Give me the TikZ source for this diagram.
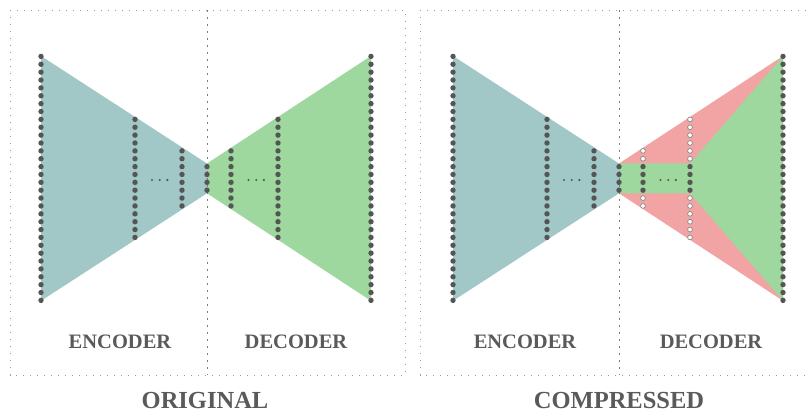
\documentclass[tikz,border=0pt]{standalone}
\usepackage{fontspec}
\setmainfont{Liberation Serif}
\definecolor{encc}{HTML}{A1C7C6}
\definecolor{decc}{HTML}{9ED89E}
\definecolor{cutc}{HTML}{F2A3A3}
\definecolor{dotc}{HTML}{555555}
\definecolor{txtc}{HTML}{5A5A5A}
\definecolor{framec}{HTML}{9A9A9A}
\begin{document}
\begin{tikzpicture}[x=1pt,y=-1pt,
  frame/.style={draw=framec,line width=0.8pt,dash pattern=on 1.1pt off 5.9pt},
  divider/.style={draw=framec!80!black,line width=0.8pt,dash pattern=on 1.6pt off 5.4pt},
  neuron/.style={fill=dotc},
  pruned/.style={fill=white,draw=dotc!70,line width=0.7pt},
  partlabel/.style={font=\bfseries\fontsize{20.5}{24}\selectfont,text=txtc,anchor=base,inner sep=0pt},
  titlelabel/.style={font=\bfseries\fontsize{24.5}{28}\selectfont,text=txtc,anchor=base,inner sep=0pt}]
\useasboundingbox (0,0) rectangle (806,414);
\clip (0,0) rectangle (806,414);
\fill[white] (0,0) rectangle (806,414);
% frames
\draw[frame] (10,10) rectangle (405,375);
\draw[frame] (420,10) rectangle (815,375);
% ---------------- ORIGINAL ----------------
\fill[encc] (41,56) -- (207,163.5) -- (207,193.3) -- (41,300.8) -- cycle;
\fill[decc] (207,163.5) -- (371,56) -- (371,300.8) -- (207,193.3) -- cycle;
\draw[divider] (207,10) -- (207,375);
\foreach \k in {0,...,31}{
  \fill[neuron] (41,{178.4+(\k-15.5)*7.87}) circle (2.7pt);
  \fill[neuron] (371,{178.4+(\k-15.5)*7.87}) circle (2.7pt);}
\foreach \k in {0,...,15}{
  \fill[neuron] (135,{178.4+(\k-7.5)*7.87}) circle (2.7pt);
  \fill[neuron] (278,{178.4+(\k-7.5)*7.87}) circle (2.7pt);}
\foreach \k in {0,...,7}{
  \fill[neuron] (182,{178.4+(\k-3.5)*7.87}) circle (2.7pt);
  \fill[neuron] (231,{178.4+(\k-3.5)*7.87}) circle (2.7pt);}
\foreach \k in {0,...,3}{
  \fill[neuron] (207,{178.4+(\k-1.5)*7.87}) circle (2.7pt);}
\foreach \x in {152,159.7,167.4,248.5,256.2,263.9}{
  \fill[neuron] (\x,180) circle (1.2pt);}
\node[partlabel] (enc1) at (120,348.5) {ENCODER};
\node[partlabel] (dec1) at (296,348.5) {DECODER};
\node[titlelabel] (orig) at (205,408.5) {ORIGINAL};
% ---------------- COMPRESSED ----------------
\begin{scope}[xshift=412pt]
\fill[encc] (41,56) -- (207,163.5) -- (207,193.3) -- (41,300.8) -- cycle;
\fill[cutc] (207,163.5) -- (371,56) -- (371,300.8) -- (207,193.3) -- cycle;
\fill[decc] (207,163.5) -- (278,163.5) -- (371,56) -- (371,300.8) -- (278,193.3) -- (207,193.3) -- cycle;
\draw[divider] (207,10) -- (207,375);
\foreach \k in {0,...,31}{
  \fill[neuron] (41,{178.4+(\k-15.5)*7.87}) circle (2.7pt);
  \fill[neuron] (371,{178.4+(\k-15.5)*7.87}) circle (2.7pt);}
\foreach \k in {0,...,15}{
  \fill[neuron] (135,{178.4+(\k-7.5)*7.87}) circle (2.7pt);}
\foreach \k in {0,...,7}{
  \fill[neuron] (182,{178.4+(\k-3.5)*7.87}) circle (2.7pt);}
\foreach \k in {0,...,3}{
  \fill[neuron] (207,{178.4+(\k-1.5)*7.87}) circle (2.7pt);
  \fill[neuron] (231,{178.4+(\k-1.5)*7.87}) circle (2.7pt);
  \fill[neuron] (278,{178.4+(\k-1.5)*7.87}) circle (2.7pt);}
\foreach \k in {0,1,6,7}{
  \filldraw[pruned] (231,{178.4+(\k-3.5)*7.87}) circle (2.4pt);}
\foreach \k in {0,...,5,10,11,...,15}{
  \filldraw[pruned] (278,{178.4+(\k-7.5)*7.87}) circle (2.4pt);}
\foreach \x in {152,159.7,167.4,248.5,256.2,263.9}{
  \fill[neuron] (\x,180) circle (1.2pt);}
\end{scope}
\node[partlabel] (enc2) at (525,348.5) {ENCODER};
\node[partlabel] (dec2) at (711,348.5) {DECODER};
\node[titlelabel] (comp) at (619,408.5) {COMPRESSED};
\end{tikzpicture}
\end{document}
